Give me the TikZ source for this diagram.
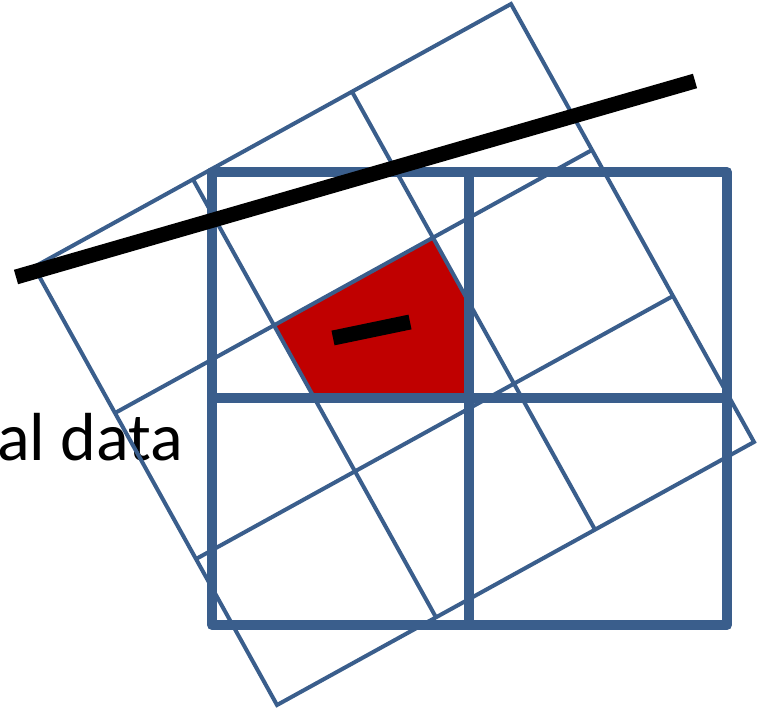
\documentclass[tikz,border=0pt]{standalone}
\usepackage{fontspec}
\setmainfont{Carlito}
\usetikzlibrary{calc}
\definecolor{gridblue}{HTML}{3A5E8C}
\definecolor{cellred}{HTML}{C00000}
\tikzset{
  thingrid/.style={draw=gridblue, line width=4pt},
  thickgrid/.style={draw=gridblue, line width=10pt, line join=round},
  blackbar/.style={draw=black, line width=15pt},
  lbl/.style={anchor=base east, inner sep=0pt, font=\fontsize{68}{80}\selectfont}
}
\begin{document}
\begin{tikzpicture}[x=1pt,y=-1pt]
\useasboundingbox (0,0) rectangle (765,708);
\clip (0,0) rectangle (765,708);
% text
\node[lbl] (txt) at (183,460) {al data};
% rotated grid corners
\coordinate (L) at (34,267);
\coordinate (T) at (511,4);
\coordinate (R) at (754,442);
\coordinate (B) at (277,705);
% red cell, clipped by upper-left thick cell
\begin{scope}
  \clip (212,172) rectangle (469,398);
  \fill[cellred] ($(L)!1/3!(T)!1/3!($(B)!1/3!(R)$)$) --
                 ($(L)!2/3!(T)!1/3!($(B)!2/3!(R)$)$) --
                 ($(L)!2/3!(T)!2/3!($(B)!2/3!(R)$)$) --
                 ($(L)!1/3!(T)!2/3!($(B)!1/3!(R)$)$) -- cycle;
\end{scope}
% small black bar
\coordinate (s1) at (333,338);
\coordinate (s2) at (410,322);
\draw[blackbar] (s1) -- (s2);
% thin rotated grid
\draw[thingrid] (L) -- (T) -- (R) -- (B) -- cycle;
\draw[thingrid] ($(L)!1/3!(T)$) -- ($(B)!1/3!(R)$);
\draw[thingrid] ($(L)!2/3!(T)$) -- ($(B)!2/3!(R)$);
\draw[thingrid] ($(L)!1/3!(B)$) -- ($(T)!1/3!(R)$);
\draw[thingrid] ($(L)!2/3!(B)$) -- ($(T)!2/3!(R)$);
% thick grid
\coordinate (g1) at (212,172);
\coordinate (g2) at (727,625);
\draw[thickgrid] (g1) rectangle (g2);
\draw[thickgrid] (469,172) -- (469,625);
\draw[thickgrid] (212,398) -- (727,398);
% long black line
\coordinate (b1) at (16,277);
\coordinate (b2) at (695,81);
\draw[blackbar] (b1) -- (b2);
\end{tikzpicture}
\end{document}
